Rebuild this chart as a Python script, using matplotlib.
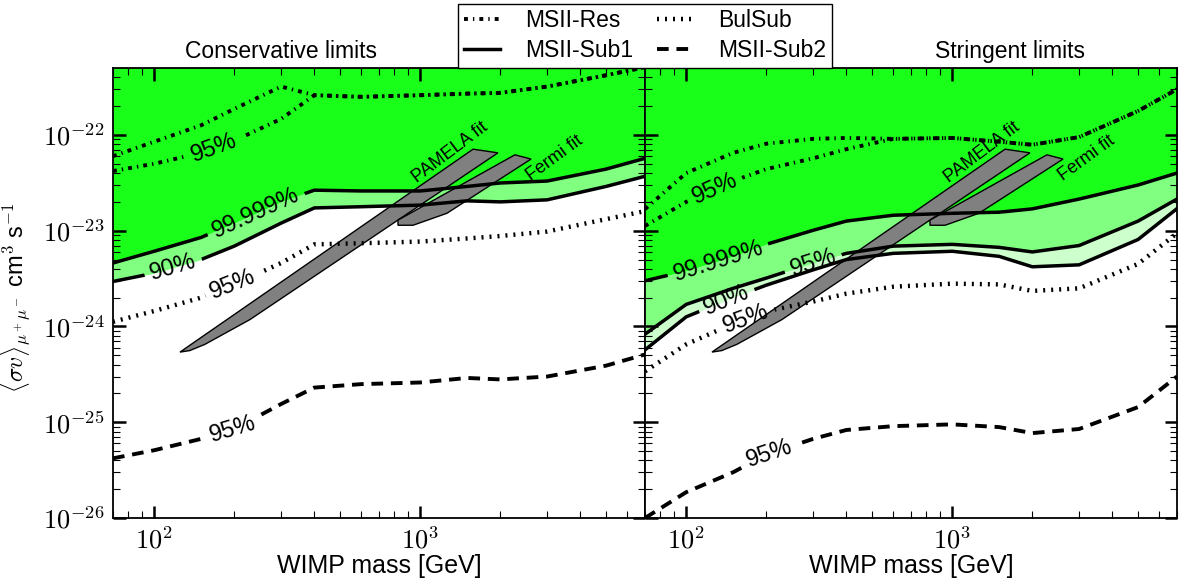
import numpy as np
import matplotlib
matplotlib.use("Agg")
import matplotlib.pyplot as plt
from matplotlib.path import Path
from matplotlib.transforms import IdentityTransform
from matplotlib.patches import Polygon
from matplotlib.lines import Line2D
from matplotlib.ticker import FixedLocator, FuncFormatter, NullFormatter

plt.rcParams['font.family'] = ['Liberation Sans', 'DejaVu Sans']
plt.rcParams['mathtext.fontset'] = 'cm'

# ---------------- data ----------------
mass = np.array([70, 100, 150, 200, 300, 400, 600, 1000, 1500, 2000, 3000, 5000, 7000])

# Conservative limits
cons_res_hi = [6.0e-23, 8.5e-23, 1.26e-22, 1.87e-22, 3.2e-22, 2.6e-22, 2.5e-22, 2.6e-22, 2.7e-22, 2.75e-22, 3.2e-22, 4.2e-22, 5.1e-22]
cons_res_lo = [4.2e-23, 5.0e-23, 6.5e-23, 8.7e-23, 1.47e-22, 2.6e-22, 2.5e-22, 2.6e-22, 2.7e-22, 2.75e-22, 3.2e-22, 4.2e-22, 5.1e-22]
cons_sub1_999 = [4.6e-24, 6.1e-24, 8.5e-24, 1.2e-23, 2.0e-23, 2.65e-23, 2.6e-23, 2.6e-23, 2.9e-23, 3.15e-23, 3.3e-23, 4.4e-23, 5.7e-23]
cons_sub1_90 = [2.95e-24, 3.6e-24, 5.0e-24, 6.9e-24, 1.2e-23, 1.73e-23, 1.78e-23, 1.85e-23, 2.05e-23, 2.0e-23, 2.1e-23, 2.9e-23, 3.7e-23]
cons_bulsub = [1.12e-24, 1.45e-24, 2.0e-24, 2.75e-24, 4.6e-24, 7.2e-24, 7.4e-24, 7.7e-24, 8.3e-24, 8.8e-24, 9.8e-24, 1.32e-23, 1.6e-23]
cons_sub2 = [4.2e-26, 5.1e-26, 6.7e-26, 8.5e-26, 1.55e-25, 2.3e-25, 2.5e-25, 2.6e-25, 2.9e-25, 2.8e-25, 3.0e-25, 3.9e-25, 5.1e-25]

# Stringent limits
str_res_hi = [1.68e-23, 4.0e-23, 6.5e-23, 8.1e-23, 9.1e-23, 9.3e-23, 9.1e-23, 9.3e-23, 8.5e-23, 7.9e-23, 9.5e-23, 1.78e-22, 3.0e-22]
str_res_lo = [1.12e-23, 2.0e-23, 3.3e-23, 4.4e-23, 5.7e-23, 7.1e-23, 9.1e-23, 9.3e-23, 8.5e-23, 7.9e-23, 9.5e-23, 1.78e-22, 3.0e-22]
str_sub1_999 = [3.0e-24, 3.8e-24, 5.4e-24, 7.2e-24, 1.01e-23, 1.26e-23, 1.45e-23, 1.52e-23, 1.56e-23, 1.69e-23, 2.14e-23, 3.0e-23, 4.0e-23]
str_sub1_95 = [8.3e-25, 1.7e-24, 2.5e-24, 3.2e-24, 4.6e-24, 5.8e-24, 6.9e-24, 7.2e-24, 6.7e-24, 6.0e-24, 7.0e-24, 1.26e-23, 2.14e-23]
str_sub1_90 = [5.7e-25, 1.26e-24, 2.0e-24, 2.7e-24, 3.9e-24, 5.0e-24, 5.8e-24, 6.1e-24, 5.4e-24, 4.2e-24, 4.4e-24, 8.1e-24, 1.7e-23]
str_bulsub = [3.4e-25, 6.5e-25, 1.07e-24, 1.44e-24, 1.82e-24, 2.2e-24, 2.6e-24, 2.8e-24, 2.75e-24, 2.35e-24, 2.5e-24, 4.5e-24, 9.4e-24]
str_sub2 = [1.0e-26, 1.86e-26, 3.0e-26, 4.6e-26, 6.7e-26, 8.3e-26, 9.1e-26, 9.5e-26, 8.9e-26, 7.7e-26, 8.5e-26, 1.44e-25, 3.0e-25]

# PAMELA / Fermi best-fit regions (mass [GeV], <sigma v>)
pamela_mass = [125, 1580, 1960, 229, 155, 136]
pamela_sv = [5.4e-25, 7.1e-23, 6.5e-23, 1.18e-24, 6.5e-25, 5.6e-25]
fermi_mass = [825, 2270, 2610, 1260, 940, 825]
fermi_sv = [1.29e-23, 6.2e-23, 5.6e-23, 1.52e-23, 1.14e-23, 1.14e-23]

legend_labels = ['MSII-Res', 'MSII-Sub1', 'BulSub', 'MSII-Sub2']
panel_titles = ['Conservative limits', 'Stringent limits']
x_major = [100, 1000]
y_major = [1e-26, 1e-25, 1e-24, 1e-23, 1e-22]

# ---------------- styles ----------------
GREEN = '#1aff1a'
LGREEN = '#80ff80'
VLGREEN = '#ccffcc'
RES = dict(color='k', lw=2.8, linestyle=(0, (1.0, 1.3, 0.35, 1.3)))
BUL = dict(color='k', lw=3.2, linestyle=(0, (0.45, 1.35)))
SUB1 = dict(color='k', lw=2.5, linestyle='-')
SUB2 = dict(color='k', lw=2.8, linestyle=(0, (3.0, 2.0)))

fig = plt.figure(figsize=(11.83, 5.78), dpi=100)
L, R, B, T = 113/1183, 1177/1183, 1 - 518/578, 1 - 68/578
W = (R - L) / 2
axL = fig.add_axes([L, B, W, T - B])
axR = fig.add_axes([L + W, B, W, T - B])

for ax in (axL, axR):
    ax.set_xscale('log')
    ax.set_yscale('log')
    ax.set_xlim(70, 7000)
    ax.set_ylim(1e-26, 5e-22)


def interp_log(xs, ys, x0):
    return 10 ** np.interp(np.log10(x0), np.log10(xs), np.log10(ys))


def line_label(ax, xs, ys, x0, txt, size=17):
    y0 = interp_log(xs, ys, x0)
    xs = np.asarray(xs, float)
    i = np.searchsorted(xs, x0)
    i = min(max(i, 1), len(xs) - 1)
    p1 = ax.transData.transform((xs[i - 1], ys[i - 1]))
    p2 = ax.transData.transform((xs[i], ys[i]))
    ang = np.degrees(np.arctan2(p2[1] - p1[1], p2[0] - p1[0]))
    return ax.text(x0, y0, txt, fontsize=size, rotation=ang, rotation_mode='anchor',
                   ha='center', va='center', zorder=5)


def draw_panel(ax, res_hi, res_lo, s999, s95, s90, bul, sub2, labels):
    ax.fill_between(mass, s999, 1e-20, color=GREEN, lw=0, zorder=1)
    lower = s95 if s95 is not None else s90
    ax.fill_between(mass, lower, s999, color=LGREEN, lw=0, zorder=1)
    if s95 is not None:
        ax.fill_between(mass, s90, s95, color=VLGREEN, lw=0, zorder=1)
    ax.add_patch(Polygon(np.column_stack([pamela_mass, pamela_sv]), closed=True,
                         fc='#808080', ec='k', lw=1.0, zorder=2))
    ax.add_patch(Polygon(np.column_stack([fermi_mass, fermi_sv]), closed=True,
                         fc='#808080', ec='k', lw=1.0, zorder=2))
    lines = {}
    lines['res_hi'] = (ax.plot(mass, res_hi, zorder=3, **RES)[0], res_hi)
    lines['res_lo'] = (ax.plot(mass, res_lo, zorder=3, **RES)[0], res_lo)
    lines['s999'] = (ax.plot(mass, s999, zorder=3, **SUB1)[0], s999)
    if s95 is not None:
        lines['s95'] = (ax.plot(mass, s95, zorder=3, **SUB1)[0], s95)
    lines['s90'] = (ax.plot(mass, s90, zorder=3, **SUB1)[0], s90)
    lines['bul'] = (ax.plot(mass, bul, zorder=3, **BUL)[0], bul)
    lines['sub2'] = (ax.plot(mass, sub2, zorder=3, **SUB2)[0], sub2)
    texts = {}
    for key, x0, txt in labels:
        ln, ys = lines[key]
        texts.setdefault(key, []).append(line_label(ax, mass, ys, x0, txt))
    ax.text(1294, 6.5e-23, 'PAMELA fit', fontsize=13, rotation=37, rotation_mode='anchor',
            ha='center', va='center', zorder=5)
    ax.text(3210, 5.74e-23, 'Fermi fit', fontsize=13, rotation=36, rotation_mode='anchor',
            ha='center', va='center', zorder=5)
    return lines, texts


labL = [('res_lo', 168, '95%'), ('s999', 241, '99.999%'), ('s90', 118, '90%'),
        ('bul', 198, '95%'), ('sub2', 197, '95%')]
labR = [('res_lo', 128, '95%'), ('s999', 132, '99.999%'), ('s95', 300, '95%'),
        ('s90', 142, '90%'), ('bul', 168, '95%'), ('sub2', 206, '95%')]

linesL, textsL = draw_panel(axL, cons_res_hi, cons_res_lo, cons_sub1_999, None, cons_sub1_90,
                            cons_bulsub, cons_sub2, labL)
linesR, textsR = draw_panel(axR, str_res_hi, str_res_lo, str_sub1_999, str_sub1_95, str_sub1_90,
                            str_bulsub, str_sub2, labR)


def pow_fmt(v, pos):
    e = int(np.round(np.log10(v)))
    return r'$10^{%d}$' % e


x_minor = [m * 10 ** k for k in (1, 2, 3) for m in range(2, 10) if 70 <= m * 10 ** k <= 7000]
y_minor = [m * 10.0 ** k for k in (-26, -25, -24, -23, -22) for m in range(2, 10) if m * 10.0 ** k <= 5e-22]

for ax in (axL, axR):
    ax.xaxis.set_major_locator(FixedLocator(x_major))
    ax.xaxis.set_minor_locator(FixedLocator(x_minor))
    ax.yaxis.set_major_locator(FixedLocator(y_major))
    ax.yaxis.set_minor_locator(FixedLocator(y_minor))
    ax.xaxis.set_major_formatter(FuncFormatter(pow_fmt))
    ax.yaxis.set_major_formatter(FuncFormatter(pow_fmt))
    ax.xaxis.set_minor_formatter(NullFormatter())
    ax.yaxis.set_minor_formatter(NullFormatter())
    ax.tick_params(which='major', direction='in', length=9, width=1.8, top=True, right=True,
                   labelsize=19, pad=6)
    ax.tick_params(which='minor', direction='in', length=5, width=0.8, top=True, right=True)
    for sp in ax.spines.values():
        sp.set_linewidth(1.3)
    ax.set_xlabel('WIMP mass [GeV]', fontsize=18, labelpad=1)
axR.tick_params(labelleft=False)
axL.set_ylabel(r'$\langle\sigma v\rangle_{\mu^+\mu^-}$ cm$^3$ s$^{-1}$', fontsize=17)
axL.yaxis.set_label_coords(-0.15, 0.49)

axL.text(0.316, 1.036, panel_titles[0], transform=axL.transAxes, ha='center', va='center', fontsize=16.5)
axR.text(0.686, 1.036, panel_titles[1], transform=axR.transAxes, ha='center', va='center', fontsize=16.5)

handles = [Line2D([], [], **RES), Line2D([], [], **SUB1), Line2D([], [], **BUL), Line2D([], [], **SUB2)]
leg = fig.legend(handles, legend_labels, loc='lower center', bbox_to_anchor=(645/1183, 1 - 68/578),
                 ncol=2, fontsize=16.5, frameon=True, fancybox=False, edgecolor='k', framealpha=1,
                 borderaxespad=0, handlelength=1.6, handletextpad=1.1, columnspacing=1.0,
                 labelspacing=0.3, borderpad=0.25)
leg.get_frame().set_linewidth(1.0)

# break lines under their inline labels
fig.canvas.draw()
renderer = fig.canvas.get_renderer()


def make_clip(ax, texts, pad_w=6, pad_h=0):
    r = ax.get_window_extent(renderer)
    verts = [(r.x0, r.y0), (r.x1, r.y0), (r.x1, r.y1), (r.x0, r.y1), (r.x0, r.y0)]
    codes = [Path.MOVETO, Path.LINETO, Path.LINETO, Path.LINETO, Path.CLOSEPOLY]
    for t in texts:
        rot = t.get_rotation()
        t.set_rotation(0)
        bb = t.get_window_extent(renderer)
        t.set_rotation(rot)
        cx, cy = ax.transData.transform(t.get_position())
        w = bb.width / 2 + pad_w
        h = bb.height / 2 + pad_h
        a = np.deg2rad(rot)
        c, s = np.cos(a), np.sin(a)
        corners = [(-w, -h), (-w, h), (w, h), (w, -h), (-w, -h)]
        verts += [(cx + c * x - s * y, cy + s * x + c * y) for x, y in corners]
        codes += [Path.MOVETO, Path.LINETO, Path.LINETO, Path.LINETO, Path.CLOSEPOLY]
    return Path(verts, codes)


for ax, lines, texts in ((axL, linesL, textsL), (axR, linesR, textsR)):
    for key, tl in texts.items():
        ln = lines[key][0]
        ln.set_clip_path(make_clip(ax, tl), IdentityTransform())

fig.savefig('out.png', dpi=100)
